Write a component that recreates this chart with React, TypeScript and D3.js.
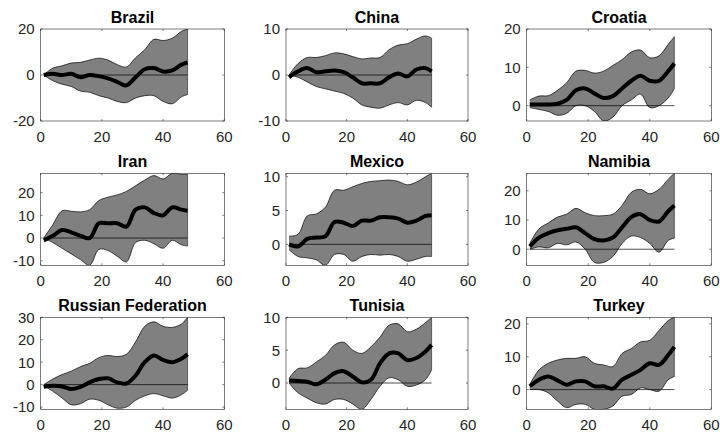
import React from "react";
import * as d3 from "d3";

const months = [1, 4, 7, 10, 13, 16, 19, 22, 25, 28, 31, 34, 37, 40, 43, 46, 48];
const xTicks = [0, 20, 40, 60];

const brazilHi = [0, 3, 4, 5.2, 5.5, 6.5, 7.3, 6.5, 4.5, 3.5, 7.5, 11, 15.5, 15, 16, 19, 20];
const brazilLo = [0, -2.5, -4, -5, -7, -7.5, -9, -10, -11.5, -12, -10, -9, -9, -11.5, -12.5, -9.5, -8.5];
const brazilMid = [0, 0.5, 0, 0.5, -1, 0, -0.5, -1.5, -3, -4.5, -1, 2.5, 3, 1.5, 2, 4.5, 5.5];

const chinaHi = [0, 2.5, 3.8, 3.8, 4.2, 4.8, 4.6, 4.0, 3.5, 3.7, 3.8, 5.5, 6.5, 6.8, 7.8, 8.5, 8];
const chinaLo = [0, -0.5, -1.5, -2.5, -3, -3.5, -4, -5, -6.5, -7, -7.2, -6.5, -6, -6.5, -5.5, -6, -7];
const chinaMid = [-0.5, 0.8, 1.5, 0.6, 0.8, 1.0, 0.6, -0.5, -1.8, -1.8, -1.8, -0.5, 0.3, -0.3, 1.2, 1.5, 0.8];

const croatiaHi = [1.5, 2.5, 2.6, 4, 6, 9, 9.2, 8.5, 9, 10.5, 12, 14, 14.5, 12.5, 13, 16, 18];
const croatiaLo = [-0.5, -1, -1.5, -2.5, -2, 0, 0, -1.5, -4, -3, 0, 1.5, 3, -0.5, 0, 2, 4.5];
const croatiaMid = [0.3, 0.3, 0.3, 0.5, 1.5, 4, 4.5, 3.2, 2, 2.5, 4.5, 6.5, 7.8, 6.5, 6.5, 9, 11];

const iranHi = [0, 6, 12, 11.8, 11.5, 12.5, 16.5, 18, 19, 20.5, 23, 25.5, 27.5, 26, 28.5, 28, 28];
const iranLo = [0, -2, -4.5, -7, -9.5, -12, -5, -5.5, -8, -10.5, -2, -1, -2.5, -4.5, -1, -3, -3.5];
const iranMid = [-1, 1, 3.5, 2.5, 1, 0, 6.5, 6.5, 6.5, 5, 12.5, 13.5, 11, 10, 13.5, 12.5, 12];

const mexicoHi = [1.2, 1.5, 4.2, 4.5, 5.5, 8, 8, 8.5, 9, 9.3, 9.4, 9.5, 9.3, 8.8, 9.2, 10, 10.5];
const mexicoLo = [-0.8, -1.8, -2, -2.3, -3.1, -1.5, -1.5, -2.5, -1.8, -1.5, -1.6, -1.5, -1.8, -2.5, -2.2, -1.8, -1.8];
const mexicoMid = [0, -0.3, 0.8, 1, 1.2, 3.3, 3.2, 2.7, 3.5, 3.5, 4, 4, 3.8, 3.2, 3.5, 4.2, 4.3];

const namibiaHi = [2, 7, 9, 11, 12, 14, 12.5, 11.5, 11.5, 12, 15, 19.5, 20.5, 19, 20.5, 24, 26];
const namibiaLo = [0, 0.8, 0.5, 2, 1.5, 2.5, 0, -4.5, -4.5, -2.5, 2, 4.5, 4, 2, -1, 3, 3.8];
const namibiaMid = [1, 4, 5.5, 6.5, 7, 7.5, 5.5, 3.5, 3, 4, 7.5, 11, 12, 10, 9.5, 13, 15];

const russiaHi = [0, 2.5, 4.5, 6, 8, 9.5, 12, 13, 12.5, 13.5, 19, 26, 28, 26, 25.5, 27, 30];
const russiaLo = [-0.5, -3, -6, -9, -8.5, -6.5, -7, -9, -10.5, -10, -7, -5, -4, -5, -6, -4.5, -2.5];
const russiaMid = [-1, -0.5, -0.8, -2, -1, 1, 2.5, 2.8, 1, 0.5, 4, 10, 13, 11, 10, 11.5, 13.5];

const tunisiaHi = [0.7, 2.2, 2.3, 3.2, 4.2, 5.8, 6.2, 5, 4.5, 5.5, 7, 8.8, 9, 7.8, 8.2, 9.2, 10];
const tunisiaLo = [0, -1.5, -2.3, -3, -3.2, -2.5, -2.5, -3.2, -4, -2.5, -0.5, 0.8, 0.5, -0.5, -0.3, 0.5, 2];
const tunisiaMid = [0.4, 0.3, 0.2, -0.2, 0.5, 1.5, 1.8, 1, 0.1, 0.5, 3, 4.5, 4.5, 3.5, 3.8, 4.8, 5.8];

const turkeyHi = [1.5, 6, 8, 9, 9.5, 9.5, 10, 8, 7.5, 7, 11, 12.5, 14.5, 15, 18, 21, 22];
const turkeyLo = [0, 0, -1, -3.5, -5.5, -4.5, -4.5, -6, -6, -5, -2, -1.5, 0.5, 0, -0.5, 3, 4];
const turkeyMid = [1, 3, 4, 2.8, 1.5, 2.5, 2.5, 1, 1, 0.3, 3, 4.5, 6, 8, 7.5, 10.5, 13];

const titles = ["Brazil", "China", "Croatia", "Iran", "Mexico", "Namibia", "Russian Federation", "Tunisia", "Turkey"];
const yLimits: [number, number][] = [[-20, 20], [-10, 10], [-4, 20], [-12, 28.5], [-3.1, 10.5], [-5.5, 26], [-11, 30], [-4, 10], [-6, 22]];
const yTickSets = [[-20, 0, 20], [-10, 0, 10], [0, 10, 20], [-10, 0, 10, 20], [0, 5, 10], [0, 10, 20], [-10, 0, 10, 20, 30], [0, 5, 10], [0, 10, 20]];
const series = [
  [brazilLo, brazilMid, brazilHi],
  [chinaLo, chinaMid, chinaHi],
  [croatiaLo, croatiaMid, croatiaHi],
  [iranLo, iranMid, iranHi],
  [mexicoLo, mexicoMid, mexicoHi],
  [namibiaLo, namibiaMid, namibiaHi],
  [russiaLo, russiaMid, russiaHi],
  [tunisiaLo, tunisiaMid, tunisiaHi],
  [turkeyLo, turkeyMid, turkeyHi],
];

const colLeft = [40.7, 286, 526.7];
const colWidth = [183.6, 182, 184.6];
const rowTop = [29, 173.3, 317.3];
const panelH = 92;
const axisColor = "#262626";
const font = "'Liberation Sans', Arial, Helvetica, sans-serif";

function Panel({ i }: { i: number }) {
  const col = i % 3;
  const row = Math.floor(i / 3);
  const left = colLeft[col];
  const top = rowTop[row];
  const w = colWidth[col];
  const h = panelH;
  const x = d3.scaleLinear().domain([0, 60]).range([left, left + w]);
  const y = d3.scaleLinear().domain(yLimits[i]).range([top + h, top]);
  const [lo, mid, hi] = series[i];
  const pts = months.map((m, k) => ({ m, lo: lo[k], mid: mid[k], hi: hi[k] }));
  const curve = d3.curveCatmullRom.alpha(0.5);
  const area = d3
    .area<any>()
    .x((d) => x(d.m))
    .y0((d) => y(d.lo))
    .y1((d) => y(d.hi))
    .curve(curve);
  const lineHi = d3.line<any>().x((d) => x(d.m)).y((d) => y(d.hi)).curve(curve);
  const lineLo = d3.line<any>().x((d) => x(d.m)).y((d) => y(d.lo)).curve(curve);
  const lineMid = d3.line<any>().x((d) => x(d.m)).y((d) => y(d.mid)).curve(curve);
  const clipId = `clip${i}`;
  const tl = 2;
  return (
    <g>
      <defs>
        <clipPath id={clipId}>
          <rect x={left} y={top} width={w} height={h} />
        </clipPath>
      </defs>
      <rect x={left} y={top} width={w} height={h} fill="#fff" />
      <g clipPath={`url(#${clipId})`}>
        <path d={area(pts) || ""} fill="#808080" stroke="none" />
        <path d={lineHi(pts) || ""} fill="none" stroke="#000" strokeWidth={0.7} />
        <path d={lineLo(pts) || ""} fill="none" stroke="#000" strokeWidth={0.7} />
        <line
          x1={x(months[months.length - 1])}
          x2={x(months[months.length - 1])}
          y1={y(lo[lo.length - 1])}
          y2={y(hi[hi.length - 1])}
          stroke="#000"
          strokeWidth={0.5}
        />
        <line x1={x(1)} x2={x(48)} y1={y(0)} y2={y(0)} stroke="#000" strokeWidth={0.7} />
        <path d={lineMid(pts) || ""} fill="none" stroke="#000" strokeWidth={4} strokeLinejoin="round" />
      </g>
      <rect x={left} y={top} width={w} height={h} fill="none" stroke={axisColor} strokeWidth={0.6} />
      {xTicks.map((t) => (
        <g key={`x${t}`}>
          <line x1={x(t)} x2={x(t)} y1={top + h} y2={top + h - tl} stroke={axisColor} strokeWidth={0.6} />
          <line x1={x(t)} x2={x(t)} y1={top} y2={top + tl} stroke={axisColor} strokeWidth={0.6} />
          <text x={x(t)} y={top + h + 21} textAnchor="middle" fontSize={15} fontFamily={font} fill={axisColor}>
            {t}
          </text>
        </g>
      ))}
      {yTickSets[i].map((t) => (
        <g key={`y${t}`}>
          <line x1={left} x2={left + tl} y1={y(t)} y2={y(t)} stroke={axisColor} strokeWidth={0.6} />
          <line x1={left + w} x2={left + w - tl} y1={y(t)} y2={y(t)} stroke={axisColor} strokeWidth={0.6} />
          <text x={left - 6} y={y(t)} dy="0.36em" textAnchor="end" fontSize={15} fontFamily={font} fill={axisColor}>
            {t}
          </text>
        </g>
      ))}
      <text x={left + w / 2} y={top - 6.5} textAnchor="middle" fontSize={16} fontWeight="bold" fontFamily={font} fill="#000">
        {titles[i]}
      </text>
    </g>
  );
}

export default function App() {
  return (
    <div style={{ position: "absolute", left: 0, top: 0 }}>
      <svg width={720} height={437} style={{ display: "block", background: "#fff" }}>
        <rect width={720} height={437} fill="#fff" />
        {titles.map((_, i) => (
          <Panel key={i} i={i} />
        ))}
      </svg>
    </div>
  );
}
